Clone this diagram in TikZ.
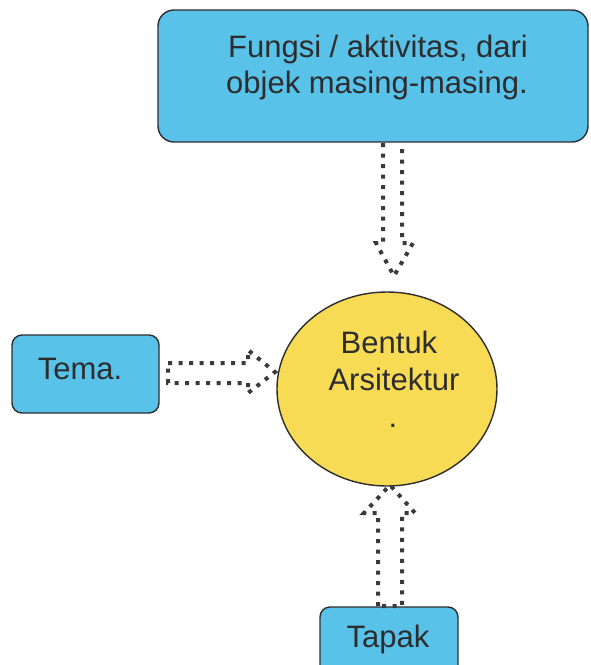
\documentclass[tikz,border=0pt]{standalone}
\usepackage{fontspec}
\setmainfont{Liberation Sans}
\usetikzlibrary{shapes.geometric}

\definecolor{boxblue}{RGB}{88,194,232}
\definecolor{coreyellow}{RGB}{248,219,84}
\definecolor{inkgray}{RGB}{45,45,48}
\definecolor{dotgray}{RGB}{58,58,62}

\begin{document}
\begin{tikzpicture}[x=1pt,y=-1pt,
  box/.style={draw=inkgray, line width=1.4pt, fill=boxblue, inner sep=0pt},
  lbl/.style={font=\fontsize{31}{37}\selectfont, text=inkgray, anchor=base, inner sep=0pt},
  hollowarrow/.style={draw=dotgray, line width=4pt, dash pattern=on 4pt off 6.5pt, line join=miter}]
\useasboundingbox (0,0) rectangle (590,665);

% boxes and the central ellipse
\node[box, rounded corners=16pt, minimum width=430pt, minimum height=132pt] (fungsi) at (373,76) {};
\node[box, rounded corners=10pt, minimum width=147pt, minimum height=78pt] (tema) at (85.5,374) {};
\node[box, rounded corners=10pt, minimum width=138pt, minimum height=70pt] (tapak) at (389,642) {};
\node[ellipse, draw=inkgray, line width=1.4pt, fill=coreyellow, minimum width=220pt, minimum height=194pt, inner sep=0pt] (core) at (387,389) {};

% labels
\node[lbl] (fungsi1) at (378,57) {Fungsi / aktivitas, dari};
\node[lbl] (fungsi2) at (377,93) {objek masing-masing.};
\node[lbl] (temalbl) at (80,379) {Tema.};
\node[lbl] (tapaklbl) at (388,647) {Tapak};
\node[lbl] (core1) at (389,353) {Bentuk};
\node[lbl] (core2) at (394,390) {Arsitektur};
\node[lbl] (core3) at (393,427) {.};

% hollow dotted block arrows
\draw[hollowarrow] (383,143) -- (383,243) -- (376,243) -- (394,276) -- (413,243) -- (402,243) -- (402,143);
\draw[hollowarrow] (168,363) -- (248,363) -- (248,350) -- (275,372) -- (248,393) -- (248,383) -- (168,383) -- cycle;
\draw[hollowarrow] (378,606) -- (378,513) -- (364,513) -- (390,485) -- (415,513) -- (402,513) -- (402,606) -- cycle;
\end{tikzpicture}
\end{document}
